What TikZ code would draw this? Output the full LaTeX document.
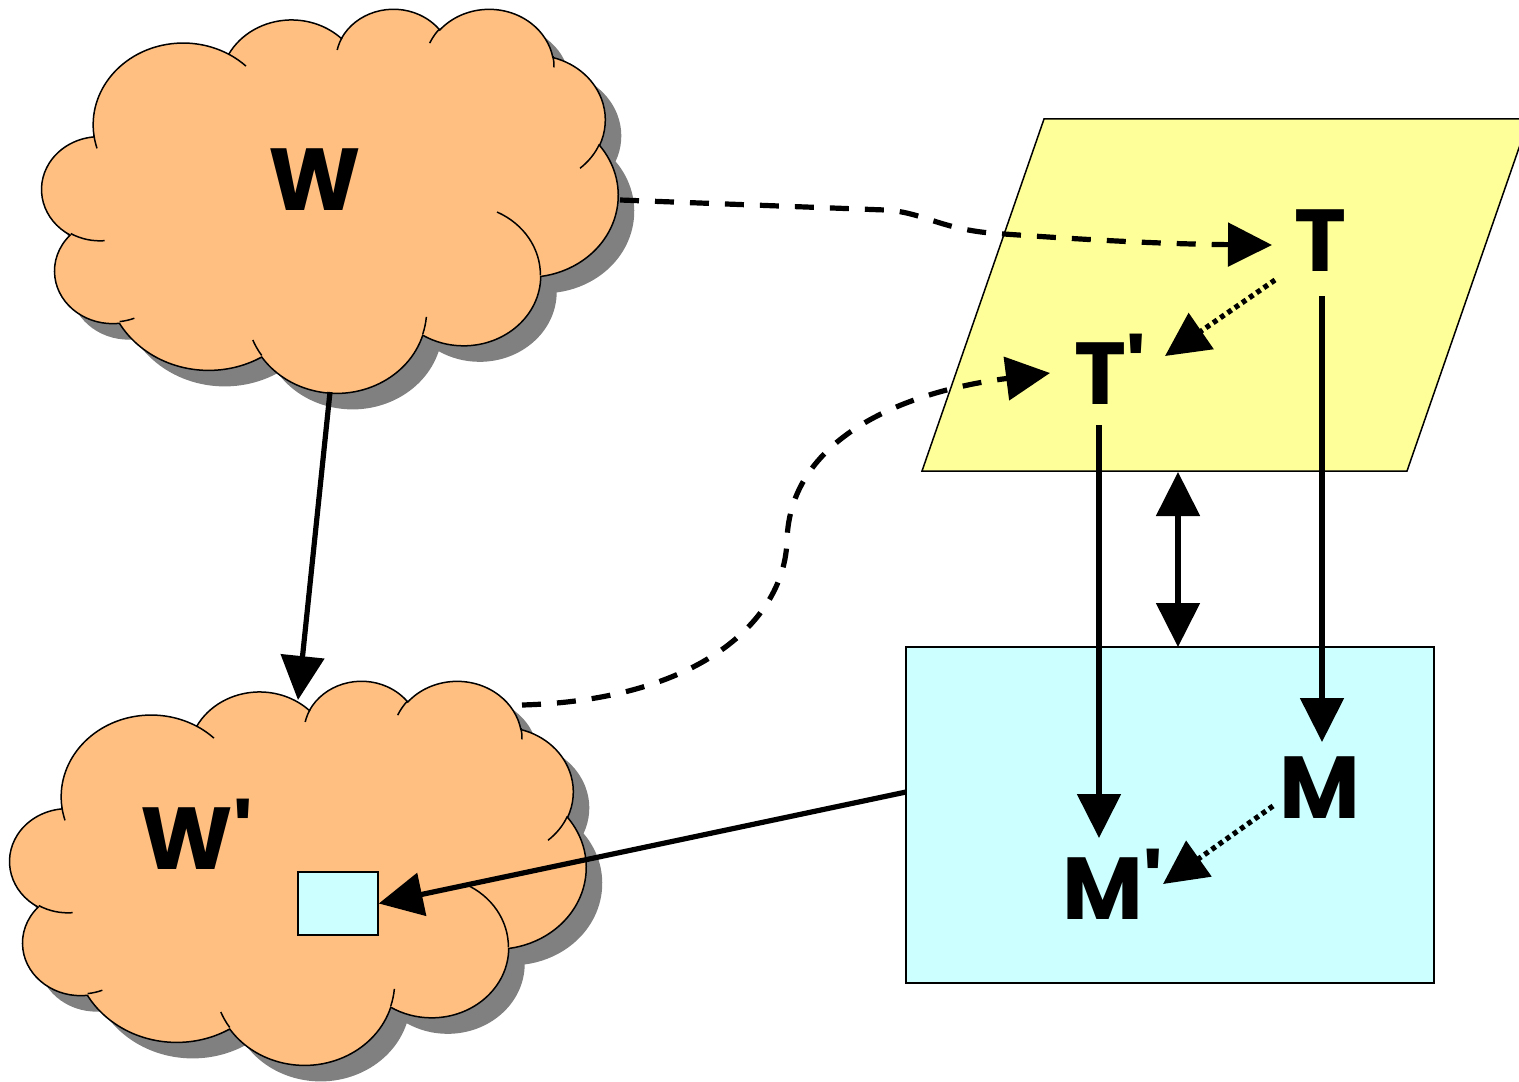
\documentclass[tikz,border=0pt]{standalone}
\usepackage{fontspec}
\setmainfont{Poppins}
\usetikzlibrary{arrows.meta}

\definecolor{cloudfill}{HTML}{FFBF80}
\definecolor{cloudshadow}{HTML}{808080}
\definecolor{parafill}{HTML}{FFFF99}
\definecolor{boxfill}{HTML}{CCFFFF}

\def\cloudR{1}
\newcommand\carc[4]{%
  \pgfmathsetmacro\cts{atan2(#1*\cloudR*sin(#3),#2*cos(#3))}%
  \pgfmathsetmacro\cte{atan2(#1*\cloudR*sin(#3+#4),#2*cos(#3+#4))}%
  \pgfmathsetmacro\cdd{\cte-\cts}%
  \pgfmathsetmacro\cdd{\cdd+(#4>0)*(\cdd<0)*360-(#4<0)*(\cdd>0)*360}%
  \xdef\cpath{\cpath arc[x radius=#1, y radius=#2, start angle=\cts, delta angle=\cdd]}%
}
\newcommand\cmv[2]{\xdef\cpath{\cpath (#1,#2)}}
\newcommand\buildcloud{%
  \gdef\cpath{(39.00,143.70)}%
  \carc{67.53}{91.90}{-190.4875}{123.7805}%
  \carc{53.33}{72.67}{-144.1024}{89.9452}%
  \carc{43.65}{59.45}{-145.8079}{99.7230}%
  \carc{48.57}{65.95}{-130.9861}{117.2417}%
  \carc{53.33}{72.73}{-78.7089}{109.0269}%
  \carc{67.75}{92.20}{-46.2673}{130.2690}%
  \carc{57.85}{78.67}{0.6250}{114.0333}%
  \carc{67.52}{92.15}{22.4516}{115.1726}%
  \carc{77.20}{105.43}{66.2426}{75.7110}%
  \carc{43.60}{59.18}{-274.9421}{146.7356}%
  \carc{43.45}{59.45}{-246.8285}{152.5189}%
  \xdef\cpath{\cpath -- cycle}%
  \global\let\couter\cpath
  \gdef\cpath{}%
  \cmv{46.93}{261.77}\carc{43.45}{59.45}{86.7420}{26.4295}%
  \cmv{69.28}{348.99}\carc{43.60}{59.18}{73.6105}{11.4475}%
  \cmv{164.78}{390.90}\carc{67.52}{92.15}{137.6242}{14.0811}%
  \cmv{288.27}{347.51}\carc{67.52}{92.15}{6.4533}{15.9984}%
  \cmv{341.29}{229.54}\carc{57.85}{78.67}{-70.2924}{70.9174}%
  \cmv{417.98}{153.54}\carc{53.33}{72.73}{30.3180}{27.7515}%
  \cmv{383.24}{54.26}\carc{48.57}{65.95}{-13.7443}{14.8524}%
  \cmv{290.78}{39.52}\carc{48.57}{65.95}{-149.1815}{18.1928}%
  \cmv{221.41}{47.20}\carc{43.65}{59.45}{-163.4943}{17.6937}%
  \cmv{140.00}{51.92}\carc{67.53}{91.90}{-66.7070}{12.3194}%
  \cmv{41.27}{157.89}\carc{67.53}{91.90}{157.6544}{11.8582}%
  \global\let\cinner\cpath
}

\tikzset{
  outline/.style={draw=black, line width=0.75pt},
  >={Triangle[length=22pt,width=21.5pt]},
  conn/.style={line width=2.6pt, ->},
  dashconn/.style={conn, dash pattern=on 9.5pt off 8pt},
  dotconn/.style={conn, dash pattern=on 2.4pt off 2pt},
  lab/.style={inner sep=0pt, font=\fontsize{44}{44}\selectfont\bfseries},
  cloudscale/.style={xscale=576/432, yscale=384/432},
}

\begin{document}
\begin{tikzpicture}[x=0.5pt,y=-0.5pt]
\useasboundingbox (0,0) rectangle (1519,1081);
\buildcloud
% clouds: shadows
\begin{scope}[shift={(58,24)}, cloudscale]
  \fill[cloudshadow] \couter;
\end{scope}
\begin{scope}[shift={(26,696)}, cloudscale]
  \fill[cloudshadow] \couter;
\end{scope}
% clouds: bodies
\begin{scope}[shift={(42,8)}, cloudscale]
  \path[fill=cloudfill, outline] \couter;
  \draw[outline] \cinner;
\end{scope}
\begin{scope}[shift={(10,680)}, cloudscale]
  \path[fill=cloudfill, outline] \couter;
  \draw[outline] \cinner;
\end{scope}

% parallelogram and boxes
\path[fill=parafill, outline] (1044,119) -- (1529,119) -- (1407,471) -- (922,471) -- cycle;
\node[fill=boxfill, outline, minimum width=264pt, minimum height=168pt, inner sep=0pt] (box) at (1170,815) {};
\node[fill=boxfill, outline, minimum width=40pt, minimum height=31.5pt, inner sep=0pt] (sq) at (338,903.5) {};

% labels
\node[lab] (W) at (315,180) {W};
\node[lab] (Wp) at (197,834) {W\textquotesingle};
\node[lab] (T) at (1320,241) {T};
\node[lab] (Tp) at (1110,369) {T\textquotesingle};
\node[lab] (M) at (1320,788) {M};
\node[lab] (Mp) at (1113,884) {M\textquotesingle};

% connector end points
\coordinate (Wbot) at (330,392);
\coordinate (WpTop) at (298,700);
\coordinate (Wr) at (620,200);
\coordinate (TIn) at (1272,245);
\coordinate (Wpr) at (522,705);
\coordinate (TpIn) at (1050,373);
\coordinate (TDot) at (1275,280);
\coordinate (TpDot) at (1165,356);
\coordinate (TpOut) at (1099,425);
\coordinate (MpIn) at (1099,838);
\coordinate (TOut) at (1322,296);
\coordinate (MIn) at (1322,742);
\coordinate (ParaB) at (1178,472);
\coordinate (BoxT) at (1178,647);
\coordinate (MDot) at (1273,806);
\coordinate (MpDot) at (1163,884);
\coordinate (BoxL) at (906,792);

% connectors
\draw[conn] (Wbot) -- (WpTop);
\draw[dashconn] (Wr) -- (885,210) .. controls (922,212) and (938,228) .. (990,233) .. controls (1060,238) and (1150,244) .. (TIn);
\draw[dashconn] (Wpr) .. controls (700,700) and (785,620) .. (787,540) .. controls (790,440) and (900,392) .. (TpIn);
\draw[dotconn] (TDot) -- (TpDot);
\draw[conn] (TpOut) -- (MpIn);
\draw[conn] (TOut) -- (MIn);
\draw[conn, <->] (ParaB) -- (BoxT);
\draw[dotconn] (MDot) -- (MpDot);
\draw[conn] (BoxL) -- (sq.east);
\end{tikzpicture}
\end{document}
